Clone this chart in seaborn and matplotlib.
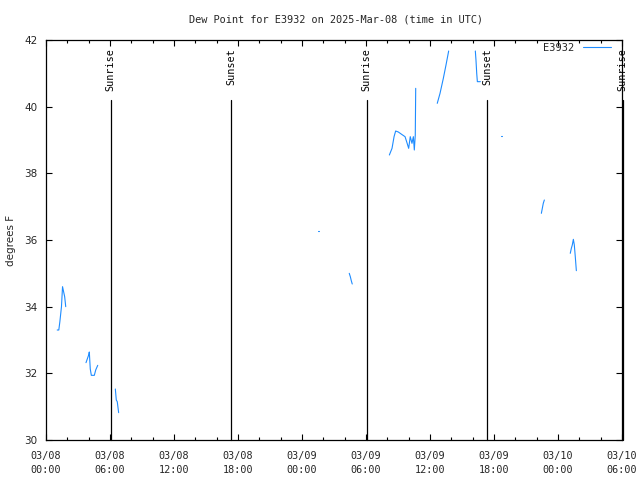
import matplotlib
matplotlib.use("Agg")
import matplotlib.pyplot as plt
import seaborn as sns
import pandas as pd
from matplotlib.lines import Line2D

# ---- data (hours since 2025-03-08 00:00 UTC) ----
seg_times = [
    [1.05, 1.2, 1.3, 1.45, 1.55, 1.65, 1.75, 1.85],
    [3.75, 4.0, 4.06, 4.15, 4.25, 4.53, 4.66, 4.85],
    [6.5, 6.59, 6.68, 6.81],
    [25.5, 25.56],
    [28.43, 28.53, 28.62, 28.71],
    [32.19, 32.44, 32.63, 32.78, 33.03, 33.34, 33.66, 33.81, 34.0, 34.15, 34.31, 34.44, 34.53, 34.62, 34.66],
    [36.68, 36.94, 37.25, 37.5, 37.75],
    [40.25, 40.31, 40.38, 40.44, 40.72],
    [42.66, 42.72],
    [46.44, 46.53, 46.62, 46.72],
    [49.15, 49.25, 49.34, 49.44, 49.53, 49.62, 49.72],
]
seg_values = [
    [33.3, 33.3, 33.55, 34.0, 34.6, 34.45, 34.3, 34.0],
    [32.32, 32.55, 32.64, 32.13, 31.94, 31.94, 32.1, 32.24],
    [31.53, 31.2, 31.15, 30.82],
    [36.26, 36.26],
    [35.0, 34.9, 34.78, 34.68],
    [38.55, 38.75, 39.1, 39.27, 39.24, 39.17, 39.1, 38.95, 38.75, 39.1, 38.9, 39.1, 38.7, 39.15, 40.55],
    [40.1, 40.4, 40.85, 41.25, 41.67],
    [41.67, 41.4, 41.0, 40.75, 40.75],
    [39.11, 39.11],
    [36.8, 36.95, 37.1, 37.2],
    [35.6, 35.75, 35.85, 36.02, 35.85, 35.5, 35.08],
]
sun_hours = [6.08, 17.34, 30.08, 41.34, 54.05]
sun_labels = ["Sunrise", "Sunset", "Sunrise", "Sunset", "Sunrise"]

xtick_hours = [0, 6, 12, 18, 24, 30, 36, 42, 48, 54]
xtick_labels = ["03/08\n00:00", "03/08\n06:00", "03/08\n12:00", "03/08\n18:00",
                "03/09\n00:00", "03/09\n06:00", "03/09\n12:00", "03/09\n18:00",
                "03/10\n00:00", "03/10\n06:00"]
yticks = [30, 32, 34, 36, 38, 40, 42]
station = "E3932"
title = "Dew Point for E3932 on 2025-Mar-08 (time in UTC)"
line_color = "#1E8CFF"

rows = []
for i, (ts, vs) in enumerate(zip(seg_times, seg_values)):
    for t, v in zip(ts, vs):
        rows.append({"hour": t, "dewpoint": v, "seg": i})
df = pd.DataFrame(rows)

sns.set_style("white")
plt.rcParams["font.family"] = ["DejaVu Sans Mono", "DejaVu Sans"]

fig = plt.figure(figsize=(6.4, 4.8), dpi=100)
ax = fig.add_axes([46/640, 40/480, 576/640, 400/480])

sns.lineplot(data=df, x="hour", y="dewpoint", units="seg", estimator=None,
             color=line_color, linewidth=0.8, ax=ax, legend=False)

ax.set_xlim(0, 54)
ax.set_ylim(30, 42)

# sunrise / sunset markers
for h, lab in zip(sun_hours, sun_labels):
    ax.plot([h, h], [30, 40.2], color="black", linewidth=0.9, clip_on=False)
    ax.text(h, 41.76, lab, rotation=90, ha="center", va="top",
            fontsize=7.3, color="black", clip_on=False)

ax.set_xticks(xtick_hours)
ax.set_xticklabels(xtick_labels, fontsize=7.3, linespacing=1.5)
ax.set_xticks([h for h in range(0, 55, 2) if h % 6 != 0], minor=True)
ax.set_yticks(yticks)
ax.set_yticklabels([str(y) for y in yticks], fontsize=7.5, family="DejaVu Sans")
ax.tick_params(axis="both", which="major", direction="in", length=4.5, width=0.8,
               top=True, right=True, bottom=True, left=True, color="black")
ax.tick_params(axis="x", which="minor", direction="in", length=2.5, width=0.8,
               top=True, bottom=True, color="black")
ax.tick_params(axis="x", which="major", pad=8)
ax.tick_params(axis="y", which="major", pad=6)

for s in ax.spines.values():
    s.set_visible(True)
    s.set_color("black")
    s.set_linewidth(0.9)

ax.set_xlabel("")
ax.set_ylabel("degrees F", fontsize=7.5, family="DejaVu Sans")
ax.yaxis.set_label_coords(-30/576, 0.5)

fig.text(336/640, 1 - 20/480, title, ha="center", va="center", fontsize=7.4)

handle = Line2D([], [], color=line_color, linewidth=0.8)
ax.legend([handle], [station], loc="center right", bbox_to_anchor=(0.988, 0.98),
          frameon=False, markerfirst=False, handlelength=2.7, fontsize=7.5,
          borderaxespad=0, handletextpad=0.8)

fig.savefig("out.png", dpi=100)
